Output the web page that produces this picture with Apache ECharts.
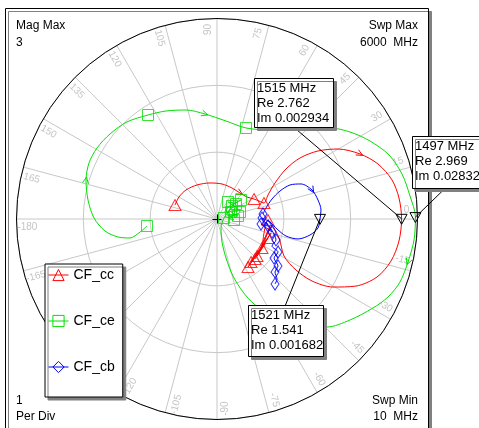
<!DOCTYPE html>
<html>
<head>
<meta charset="utf-8">
<script src="https://cdn.jsdelivr.net/npm/echarts@6/dist/echarts.min.js"></script>
<style>
html,body{margin:0;padding:0;background:#fff;}
#chart{width:479px;height:428px;}
</style>
</head>
<body>
<div id="chart"></div>
<script>
// Swept responses (10 MHz .. 6000 MHz) as complex samples [Re, Im]
const ccCurve = [
  [-0.628,0.209],[-0.569,0.329],[-0.464,0.434],[-0.299,0.509],[-0.105,0.539],[0.075,0.524],
  [0.224,0.464],[0.344,0.389],[0.449,0.329],[0.554,0.299],[0.628,0.269],[0.703,0.239],
  [0.763,0.359],[0.868,0.539],[1.032,0.748],[1.242,0.913],[1.511,1.018],[1.811,1.047],
  [2.140,0.973],[2.409,0.823],[2.619,0.584],[2.723,0.314],[2.762,0.002934],[2.723,-0.329],
  [2.604,-0.628],[2.394,-0.868],[2.080,-1.003],[1.736,-1.018],[1.422,-0.928],[1.182,-0.763],
  [1.003,-0.554],[0.928,-0.284],
  [0.763,-0.015],[0.673,-0.434],[0.793,-0.105],[0.599,-0.554],[0.808,-0.209],[0.509,-0.643],
  [0.763,-0.284],[0.464,-0.718],[0.718,-0.374],[0.569,-0.599]
];
const ceCurve = [
  [-1.047,-0.105],[-1.152,-0.195],[-1.302,-0.284],[-1.481,-0.269],[-1.676,-0.180],[-1.840,0.015],
  [-1.930,0.284],[-1.960,0.584],[-1.915,0.838],[-1.796,1.062],[-1.601,1.272],[-1.347,1.452],
  [-1.032,1.556],[-0.763,1.616],[-0.464,1.631],[-0.180,1.571],[0.135,1.466],[0.434,1.362],
  [0.793,1.332],[1.242,1.347],[1.691,1.362],[1.990,1.302],[2.289,1.167],[2.574,0.958],
  [2.768,0.673],[2.888,0.344],[2.969,0.02832],[2.948,-0.314],[2.858,-0.643],[2.738,-0.943],
  [2.559,-1.167],[2.334,-1.332],[1.990,-1.511],[1.646,-1.616],[1.242,-1.616],[0.868,-1.496],
  [0.554,-1.272],[0.389,-1.092],[0.239,-0.853],[0.135,-0.584],[0.075,-0.344],[0.060,-0.135],
  [0.105,0.015],[0.195,0.135],[0.284,0.224],[0.165,0.254],[0.344,0.105],[0.180,0.015],
  [0.254,-0.015],[0.135,0.135],[0.359,0.284],[0.224,0.195],[0.150,0.060],[0.314,0.045],
  [0.209,0.105]
];
const cbCurve = [
  [0.688,0.075],[0.733,0.165],[0.823,0.299],[0.943,0.419],[1.092,0.509],[1.257,0.524],
  [1.422,0.434],[1.511,0.284],[1.556,0.135],[1.541,0.001682],[1.511,-0.135],[1.392,-0.239],
  [1.212,-0.299],[1.032,-0.254],[0.898,-0.150],[0.793,-0.045],
  [0.673,0.015],[0.763,-0.105],[0.658,-0.075],[0.823,-0.195],[0.733,-0.045],[0.883,-0.314],
  [0.823,-0.404],[0.913,-0.494],[0.853,-0.584],[0.913,-0.703],[0.868,-0.793],[0.898,-0.898],
  [0.868,-0.973]
];

// Sample indices carrying a trace symbol
const ccMarkIdx = [0, 9, 11, 32, 33, 35, 37, 38, 39, 41];
const ceMarkIdx = [0, 12, 17, 42, 44, 45, 46, 48, 50, 51, 53, 54];
const cbMarkIdx = [0, 16, 17, 18, 19, 21, 23, 24, 25, 26, 28];

// Sample indices where a direction arrow is drawn
const ccArrowIdx = [7, 18];
const ceArrowIdx = [7, 15, 28];
const cbArrowIdx = [6];

// Marker readouts
const readoutFreqMHz = [1515, 1497, 1521];
const readoutRe = [2.762, 2.969, 1.541];
const readoutIm = [0.002934, 0.02832, 0.001682];

// Angle axis tick labels (degrees)
const angleTicks = [0, 15, 30, 45, 60, 75, 90, 105, 120, 135, 150, 165,
                    -180, -165, -150, -135, -120, -105, -90, -75, -60, -45, -30, -15];

const FONT = '"Liberation Sans", Arial, sans-serif';

function toPolar(p) {
  const mag = Math.hypot(p[0], p[1]);
  let ang = Math.atan2(p[1], p[0]) * 180 / Math.PI;
  if (ang < 0) ang += 360;
  return [mag, ang];
}

const traces = [
  { name: 'CF_cc', curve: ccCurve, marks: ccMarkIdx, arrows: ccArrowIdx, color: '#ff0000', symbol: 'triangle', size: [12, 11] },
  { name: 'CF_ce', curve: ceCurve, marks: ceMarkIdx, arrows: ceArrowIdx, color: '#00e000', symbol: 'rect', size: [11, 11] },
  { name: 'CF_cb', curve: cbCurve, marks: cbMarkIdx, arrows: cbArrowIdx, color: '#0000ff', symbol: 'diamond', size: [8, 12] }
];

// Callout box placement for each readout
const calloutBoxes = [
  { x: 254, y: 78, w: 79, h: 49 },
  { x: 412, y: 136, w: 67, h: 52 },
  { x: 248, y: 305, w: 75, h: 51 }
];

const LABEL_R = 2.84;     // radius at which angle labels sit
const LABEL_SHIFT = 2.6;  // angular offset of labels from their spoke

const series = [];

// Angle tick labels, rotated along their spokes
series.push({
  type: 'custom',
  coordinateSystem: 'polar',
  silent: true,
  z: 1,
  data: angleTicks.map(a => [LABEL_R, ((a + LABEL_SHIFT) % 360 + 360) % 360, a]),
  renderItem: function (params, api) {
    const p = api.coord([api.value(0), api.value(1)]);
    const a = api.value(2);
    let rot = ((a % 360) + 360) % 360;
    if (rot > 180) rot -= 360;
    if (rot > 90) rot -= 180;
    if (rot <= -90) rot += 180;
    return {
      type: 'text',
      x: p[0], y: p[1],
      rotation: rot * Math.PI / 180,
      style: {
        text: String(a), x: 0, y: 0,
        fill: '#c4c4c4', font: '10px ' + FONT,
        align: 'center', verticalAlign: 'middle',
        textAlign: 'center', textVerticalAlign: 'middle'
      }
    };
  }
});

// Origin cross
series.push({
  type: 'custom',
  coordinateSystem: 'polar',
  silent: true,
  z: 3,
  data: [[0, 0]],
  renderItem: function (params, api) {
    const c = api.coord([0, 0]);
    return {
      type: 'group',
      children: [
        { type: 'line', shape: { x1: c[0] - 4.5, y1: c[1] + 0.5, x2: c[0] + 4.5, y2: c[1] + 0.5 }, style: { stroke: '#000', lineWidth: 1 } },
        { type: 'line', shape: { x1: c[0] + 0.5, y1: c[1] - 4.5, x2: c[0] + 0.5, y2: c[1] + 4.5 }, style: { stroke: '#000', lineWidth: 1 } }
      ]
    };
  }
});

traces.forEach(t => {
  const pts = t.curve.map(toPolar);
  series.push({
    type: 'line',
    name: t.name,
    coordinateSystem: 'polar',
    data: pts,
    showSymbol: false,
    symbol: t.symbol,
    symbolSize: t.size,
    smooth: 0.3,
    silent: true,
    z: 2,
    lineStyle: { color: t.color, width: 1 },
    itemStyle: { color: 'transparent', borderColor: t.color, borderWidth: 1 }
  });
  series.push({
    type: 'scatter',
    name: t.name,
    coordinateSystem: 'polar',
    data: t.marks.map(i => pts[i]),
    symbol: t.symbol,
    symbolSize: t.size,
    silent: true,
    z: 3,
    itemStyle: { color: 'transparent', borderColor: t.color, borderWidth: 1 }
  });
  // Direction arrows along the sweep
  series.push({
    type: 'custom',
    coordinateSystem: 'polar',
    silent: true,
    z: 3,
    data: t.arrows.map(i => [pts[i][0], pts[i][1], pts[i + 1][0], pts[i + 1][1]]),
    renderItem: function (params, api) {
      const p = api.coord([api.value(0), api.value(1)]);
      const q = api.coord([api.value(2), api.value(3)]);
      let dx = q[0] - p[0], dy = q[1] - p[1];
      const len = Math.hypot(dx, dy) || 1;
      dx /= len; dy /= len;
      const tip = [p[0] + dx * 3, p[1] + dy * 3];
      const L = 7, s = Math.sin(25 * Math.PI / 180), c = Math.cos(25 * Math.PI / 180);
      const a1 = [tip[0] - L * (dx * c - dy * s), tip[1] - L * (dy * c + dx * s)];
      const a2 = [tip[0] - L * (dx * c + dy * s), tip[1] - L * (dy * c - dx * s)];
      return {
        type: 'polyline',
        shape: { points: [a1, tip, a2] },
        style: { stroke: t.color, lineWidth: 1, fill: null }
      };
    }
  });
});

// Marker readouts: triangle on the trace, leader line and value box
series.push({
  type: 'custom',
  coordinateSystem: 'polar',
  silent: true,
  z: 10,
  data: readoutRe.map((re, k) => {
    const pp = toPolar([re, readoutIm[k]]);
    return [pp[0], pp[1], k];
  }),
  renderItem: function (params, api) {
    const p = api.coord([api.value(0), api.value(1)]);
    const k = api.value(2);
    const b = calloutBoxes[k];
    const ax = b.x + b.w / 2;
    const ay = p[1] > b.y + b.h / 2 ? b.y + b.h : b.y;
    const txt = readoutFreqMHz[k] + ' MHz\nRe ' + readoutRe[k] + '\nIm ' + readoutIm[k];
    return {
      type: 'group',
      children: [
        { type: 'line', shape: { x1: p[0], y1: p[1], x2: ax, y2: ay }, style: { stroke: '#000', lineWidth: 1 } },
        { type: 'polygon', shape: { points: [[p[0] - 5.5, p[1] - 4.5], [p[0] + 5.5, p[1] - 4.5], [p[0], p[1] + 5.5]] },
          style: { fill: 'rgba(0,0,0,0)', stroke: '#000', lineWidth: 1 } },
        { type: 'rect', shape: { x: b.x + 0.5, y: b.y + 0.5, width: b.w, height: b.h },
          style: { fill: '#fff', stroke: '#000', lineWidth: 1, shadowColor: '#808080', shadowOffsetX: 3, shadowOffsetY: 3, shadowBlur: 0 } },
        { type: 'text', x: b.x + 3, y: b.y + 3,
          style: { text: txt, x: 0, y: 0, fill: '#000', font: '13px ' + FONT, lineHeight: 15,
                   align: 'left', verticalAlign: 'top', textAlign: 'left', textVerticalAlign: 'top' } }
      ]
    };
  }
});

function cornerText(text, x, y, align) {
  return {
    type: 'text', x: x, y: y, z: 5,
    style: { text: text, x: 0, y: 0, fill: '#000', font: '12px ' + FONT,
             align: align, verticalAlign: 'middle', textAlign: align, textVerticalAlign: 'middle' }
  };
}

const option = {
  animation: false,
  backgroundColor: '#fff',
  polar: { center: [217, 219], radius: 200.5 },
  angleAxis: {
    type: 'value', min: 0, max: 360, interval: 15, startAngle: 0, clockwise: false,
    axisLine: { show: true, lineStyle: { color: '#000', width: 1 } },
    axisTick: { show: false },
    axisLabel: { show: false },
    splitLine: { show: true, lineStyle: { color: '#c8c8c8', width: 1 } }
  },
  radiusAxis: {
    type: 'value', min: 0, max: 3, interval: 1,
    axisLine: { show: false }, axisTick: { show: false }, axisLabel: { show: false },
    splitLine: { show: true, lineStyle: { color: '#c8c8c8', width: 1 } }
  },
  legend: {
    orient: 'vertical', left: 45, top: 264,
    itemWidth: 20, itemHeight: 14, itemGap: 32,
    padding: [4, 8, 23, 3],
    backgroundColor: '#fff', borderColor: '#000', borderWidth: 1,
    shadowColor: '#808080', shadowOffsetX: 3, shadowOffsetY: 3, shadowBlur: 0,
    selectedMode: false,
    textStyle: { fontFamily: FONT, fontSize: 14, color: '#000' },
    data: traces.map(t => ({
      name: t.name,
      itemStyle: { color: 'transparent', borderColor: t.color, borderWidth: 1 },
      lineStyle: { color: t.color, width: 1 }
    }))
  },
  graphic: {
    elements: [
      { type: 'rect', z: -10, shape: { x: 5.5, y: 8.5, width: 423, height: 440 },
        style: { fill: '#fff', stroke: '#000', lineWidth: 1, shadowColor: '#808080', shadowOffsetX: 3, shadowOffsetY: 3, shadowBlur: 0 } },
      cornerText('Mag Max', 16, 26, 'left'),
      cornerText('3', 16, 42.5, 'left'),
      cornerText('Swp Max', 418, 26, 'right'),
      cornerText('6000  MHz', 418, 42.5, 'right'),
      cornerText('1', 16, 400.5, 'left'),
      cornerText('Per Div', 16, 417, 'left'),
      cornerText('Swp Min', 418, 400.5, 'right'),
      cornerText('10  MHz', 418, 417, 'right')
    ]
  },
  series: series
};

const chart = echarts.init(document.getElementById('chart'), null, { renderer: 'canvas' });
chart.setOption(option);
</script>
</body>
</html>
